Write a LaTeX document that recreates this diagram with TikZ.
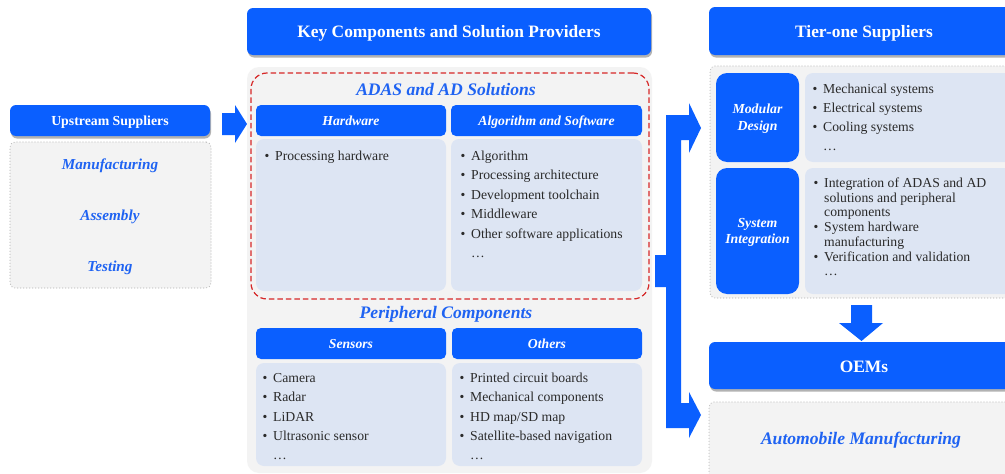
\documentclass[tikz,border=0pt]{standalone}
\usepackage{fontspec}
\setmainfont{Liberation Serif}
\usetikzlibrary{shadows}
\definecolor{bblue}{HTML}{0A5FFF}
\definecolor{tblue}{HTML}{1F63F2}
\definecolor{lgray}{HTML}{F3F3F3}
\definecolor{lblue}{HTML}{DDE5F3}
\definecolor{dgray}{HTML}{BBBBBB}
\definecolor{ddred}{HTML}{D62828}
\definecolor{txt}{HTML}{2A2A2A}
\newcommand{\bul}{\makebox[10.5pt][l]{•}}
\newcommand{\nob}{\makebox[10.5pt][l]{}}
\begin{document}
\begin{tikzpicture}[x=1pt,y=-1pt,
  box/.style={anchor=north west, inner sep=0pt, outer sep=0pt},
  shad/.style={drop shadow={shadow xshift=1pt, shadow yshift=-2.5pt, fill=black, opacity=0.3}},
  hdr/.style={box, fill=bblue, rounded corners=6pt, text=white, text height=13.3pt, text depth=0.3pt, font=\bfseries\fontsize{17.4}{19}\selectfont, shad},
  subhdr/.style={box, fill=bblue, rounded corners=5pt, text=white, text height=10.3pt, text depth=0.3pt, font=\bfseries\itshape\fontsize{13.7}{15}\selectfont},
  sidebox/.style={box, fill=bblue, rounded corners=11pt, minimum width=83pt, text=white, align=center, text depth=0pt},
  content/.style={box, fill=lblue, rounded corners=8pt},
  dotbox/.style={box, fill=lgray, draw=dgray, line width=1.2pt, dash pattern=on 0pt off 3pt, line cap=round, rounded corners=5pt},
  bluetxt/.style={inner sep=0pt, text=tblue, font=\bfseries\itshape\fontsize{15.2}{17}\selectfont},
  title/.style={bluetxt, font=\bfseries\itshape\fontsize{17.6}{19}\selectfont},
  item/.style={anchor=base west, inner sep=0pt, text=txt, font=\fontsize{13.7}{15}\selectfont},
  blockarrow/.style={fill=bblue}
]
\useasboundingbox (0,0) rectangle (1005,474);
\fill[white] (0,0) rectangle (1005,474);

% ---------- Upstream ----------
\node[hdr, text height=9.8pt, font=\bfseries\fontsize{13.8}{15}\selectfont, minimum width=200pt, minimum height=31pt] (up) at (10,105) {Upstream Suppliers};
\node[dotbox, minimum width=201pt, minimum height=146pt] (upbox) at (10,142) {};
\node[bluetxt] (manu) at (110,166) {Manufacturing};
\node[bluetxt] (assy) at (110,217) {Assembly};
\node[bluetxt] (test) at (110,268) {Testing};

\fill[blockarrow] (222,113) -- (235,113) -- (235,105) -- (247,124) -- (235,143) -- (235,135) -- (222,135) -- cycle;

% ---------- Key components ----------
\node[hdr, text height=12.7pt, minimum width=404pt, minimum height=47pt] (key) at (247,8) {Key Components and Solution Providers};
\node[box, fill=lgray, rounded corners=12pt, minimum width=405pt, minimum height=406pt] (mid) at (247,67) {};
\node[box, draw=ddred, dash pattern=on 5.5pt off 3pt, line width=1.2pt, rounded corners=16pt, minimum width=398pt, minimum height=226pt] (adasbox) at (251,73) {};
\node[title] (adas) at (446,89) {ADAS and AD Solutions};

\node[subhdr, minimum width=190pt, minimum height=31pt] (hw) at (256,105) {Hardware};
\node[subhdr, minimum width=191pt, minimum height=31pt] (alg) at (451,105) {Algorithm and Software};
\node[content, minimum width=190pt, minimum height=152pt] (hwc) at (256,139) {};
\node[content, minimum width=191pt, minimum height=152pt] (algc) at (451,139) {};

\foreach \t [count=\i] in {{\bul Processing hardware}}
  \node[item] (hwi\i) at (264.5,{160.5+(\i-1)*19.4}) {\t};
\foreach \t [count=\i] in {{\bul Algorithm},{\bul Processing architecture},{\bul Development toolchain},{\bul Middleware},{\bul Other software applications},{\nob…}}
  \node[item] (algi\i) at (460.5,{160.5+(\i-1)*19.4}) {\t};

\node[title] (peri) at (446,314) {Peripheral Components};
\node[subhdr, minimum width=190pt, minimum height=31pt] (sen) at (256,328) {Sensors};
\node[subhdr, minimum width=190pt, minimum height=31pt] (oth) at (452,328) {Others};
\node[content, minimum width=190pt, minimum height=103pt] (senc) at (256,363) {};
\node[content, minimum width=190pt, minimum height=103pt] (othc) at (452,363) {};

\foreach \t [count=\i] in {{\bul Camera},{\bul Radar},{\bul LiDAR},{\bul Ultrasonic sensor},{\nob…}}
  \node[item] (seni\i) at (262.5,{382.5+(\i-1)*19.3}) {\t};
\foreach \t [count=\i] in {{\bul Printed circuit boards},{\bul Mechanical components},{\bul HD map/SD map},{\bul Satellite-based navigation},{\nob…}}
  \node[item] (othi\i) at (459.5,{382.5+(\i-1)*19.3}) {\t};

% ---------- Big arrow ----------
\fill[blockarrow] (655,255) -- (666,255) -- (666,115) -- (689,115) -- (689,103) -- (701,128) -- (689,153) -- (689,140) -- (681,140) -- (681,403) -- (689,403) -- (689,392) -- (701,415) -- (689,438) -- (689,428) -- (666,428) -- (666,287) -- (655,287) -- cycle;

% ---------- Tier-one ----------
\node[hdr, minimum width=310pt, minimum height=48pt] (tier) at (709,7) {Tier-one Suppliers};
\node[dotbox, minimum width=310pt, minimum height=232pt] (tierbox) at (710,66) {};
\node[sidebox, minimum height=89pt, font=\bfseries\itshape\fontsize{13.8}{17}\selectfont] (mod) at (716,73) {Modular\\Design};
\node[content, minimum width=220pt, minimum height=89pt] (modc) at (805,73) {};
\node[sidebox, minimum height=126pt, font=\bfseries\itshape\fontsize{13.8}{15.5}\selectfont] (sys) at (716,168) {System\\Integration};
\node[content, minimum width=220pt, minimum height=126pt] (sysc) at (805,168) {};

\foreach \t [count=\i] in {{\bul Mechanical systems},{\bul Electrical systems},{\bul Cooling systems},{\nob…}}
  \node[item] (modi\i) at (812.5,{93+(\i-1)*19.3}) {\t};
\foreach \t [count=\i] in {{\bul Integration of ADAS and AD},{\nob solutions and peripheral},{\nob components},{\bul System hardware},{\nob manufacturing},{\bul Verification and validation},{\nob…}}
  \node[item] (sysi\i) at (813.5,{187.5+(\i-1)*14.7}) {\t};

\fill[blockarrow] (851,305) -- (872,305) -- (872,323) -- (883,323) -- (861.5,341) -- (839,323) -- (851,323) -- cycle;

% ---------- OEMs ----------
\node[hdr, text height=14.7pt, minimum width=310pt, minimum height=47pt] (oem) at (709,342) {OEMs};
\node[dotbox, minimum width=310pt, minimum height=100pt] (oembox) at (709,402) {};
\node[title] (auto) at (861,440) {Automobile Manufacturing};
\end{tikzpicture}
\end{document}
